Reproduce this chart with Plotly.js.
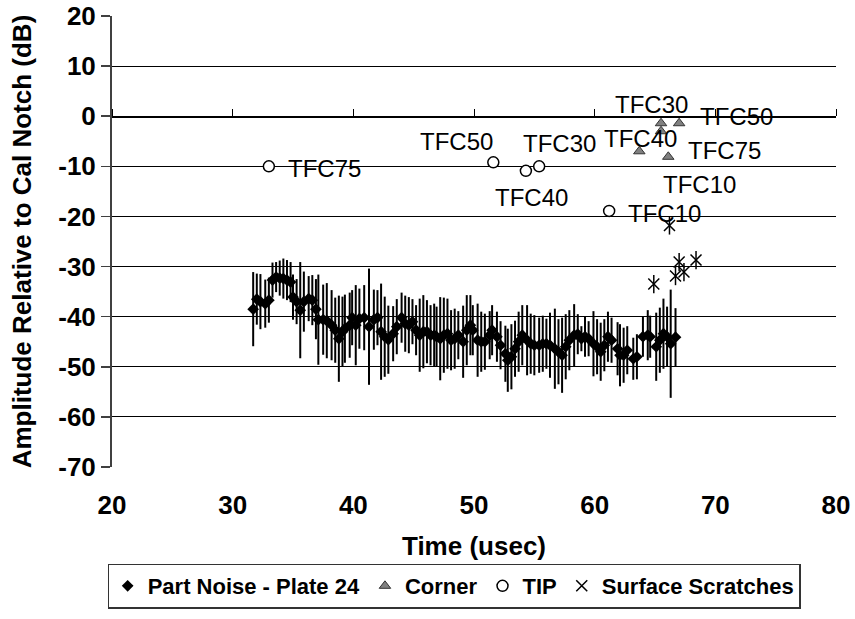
<!DOCTYPE html>
<html>
<head>
<meta charset="utf-8">
<script src="https://cdn.plot.ly/plotly-3.0.1.min.js"></script>
<style>
html,body{margin:0;padding:0;background:#fff;}
#chart{width:855px;height:619px;}
</style>
</head>
<body>
<div id="chart"></div>
<script>
// ---- data ----
const noiseX = [31.7,32.0,32.3,32.7,33.0,33.3,33.6,33.9,34.2,34.5,
  34.8,35.0,35.3,35.6,35.9,36.3,36.6,36.9,37.1,37.5,
  37.8,38.2,38.5,38.8,39.1,39.3,39.7,39.9,40.2,40.5,
  40.9,41.3,41.7,42.0,42.3,42.6,42.9,43.3,43.6,44.0,
  44.3,44.6,44.9,45.2,45.5,45.8,46.1,46.4,46.7,46.9,
  47.2,47.5,47.8,48.1,48.4,48.7,49.1,49.4,49.7,49.9,
  50.3,50.6,50.9,51.3,51.5,51.9,52.2,52.6,52.8,53.1,
  53.4,53.7,54.0,54.4,54.7,55.0,55.4,55.7,56.0,56.3,
  56.7,57.0,57.3,57.6,57.9,58.3,58.6,58.9,59.2,59.5,
  59.9,60.2,60.5,60.8,61.1,61.4,61.9,62.1,62.4,62.7,
  63.2,63.5,64.0,64.4,64.6,65.1,65.4,65.7,66.0,66.3,
  66.7];
const noiseY = [-38.5,-36.5,-37.0,-37.4,-36.7,-32.7,-32.1,-32.3,-32.4,-32.7,
  -33.1,-36.1,-37.0,-38.7,-37.0,-36.4,-36.7,-38.5,-40.6,-40.6,
  -40.8,-41.7,-42.7,-44.4,-43.0,-42.4,-41.7,-40.2,-41.7,-40.4,
  -40.2,-42.0,-40.6,-40.2,-43.0,-44.0,-44.6,-43.4,-42.0,-40.2,
  -41.4,-41.7,-41.0,-42.7,-43.7,-43.0,-43.0,-43.7,-43.7,-44.0,
  -44.4,-43.7,-43.4,-44.7,-44.4,-43.7,-45.0,-42.7,-41.7,-42.7,
  -44.7,-45.0,-45.0,-43.7,-42.7,-44.0,-45.7,-47.4,-48.7,-48.0,
  -46.4,-45.0,-43.7,-44.7,-45.4,-45.7,-45.7,-45.4,-45.4,-45.7,
  -46.4,-47.0,-47.7,-46.0,-44.7,-43.7,-43.5,-44.4,-44.0,-44.4,
  -45.4,-46.0,-47.0,-45.7,-44.0,-44.7,-46.4,-47.7,-47.7,-46.7,
  -48.4,-48.0,-44.0,-43.7,-44.0,-46.0,-44.7,-43.4,-44.0,-45.4,
  -44.1];
const noiseErr = [7.4,5.1,5.5,4.8,4.5,3.5,3.0,3.5,4.0,4.0,
  4.0,4.5,4.5,9.6,6.0,4.5,5.0,6.0,9.0,7.0,
  7.5,7.0,6.5,8.6,7.0,6.8,6.5,5.5,8.0,6.0,
  6.5,11.6,6.0,5.5,9.6,8.0,6.8,5.5,5.5,5.0,
  5.6,5.6,4.5,5.0,7.3,7.3,6.3,6.0,6.3,6.0,
  8.3,7.5,7.0,6.0,6.0,4.8,7.2,7.0,6.0,5.0,
  7.3,6.0,5.6,4.8,5.0,5.0,4.8,5.6,6.3,6.5,
  5.6,6.0,6.0,7.0,6.0,6.0,5.5,5.6,5.0,6.5,
  8.0,6.5,7.5,6.5,6.0,6.2,4.0,2.5,4.0,3.5,
  6.5,5.5,5.8,5.2,5.0,4.5,5.3,6.2,5.5,4.8,
  4.2,4.5,4.0,5.0,4.2,6.8,6.5,7.0,6.0,10.8,
  5.8];

const cornerLabels = ["TFC30","TFC10","TFC50","TFC40","TFC75"];
const cornerX = [65.5,65.5,67.0,63.7,66.1];
const cornerY = [-1.4,-3.0,-1.4,-7.0,-8.1];

const tipLabels = ["TFC75","TFC50","TFC40","TFC30","TFC10"];
const tipX = [33.0,51.6,54.3,55.4,61.2];
const tipY = [-10.0,-9.2,-10.9,-10.0,-18.9];

const scratchX = [66.2,64.9,67.0,68.4,66.7,67.4];
const scratchY = [-21.8,-33.5,-29.1,-28.7,-31.9,-31.1];

// label text positions (left edge, vertical middle) for the data labels
const tipLabelX = [34.4,45.35,51.6,53.9,62.6];
const tipLabelY = [-10.4,-5.1,-16.2,-5.5,-19.4];
const cornerLabelX = [61.5,65.5,68.55,60.57,67.6];
const cornerLabelY = [2.4,-13.6,0.0,-4.45,-6.9];

const xTicks = [20,30,40,50,60,70,80];
const yTicks = [-70,-60,-50,-40,-30,-20,-10,0,10,20];
const xRange = [20,80];
const yRange = [-70,20];

const FONT = "Arial, 'Liberation Sans', sans-serif";
const BOLD = {family: FONT, size: 26, weight: "bold", color: "#000"};

const traces = [
  {
    name: "Part Noise - Plate 24", x: noiseX, y: noiseY, type: "scatter", mode: "markers",
    marker: {symbol: "diamond", size: 9, color: "#000"},
    error_y: {type: "data", array: noiseErr, visible: true, color: "#000", thickness: 2, width: 0},
    xaxis: "x2", yaxis: "y"
  },
  {
    name: "Corner", x: cornerX, y: cornerY, type: "scatter", mode: "markers",
    marker: {symbol: "triangle-up", size: 10, color: "#808080", line: {color: "#333", width: 1}}
  },
  {
    name: "TIP", x: tipX, y: tipY, type: "scatter", mode: "markers",
    marker: {symbol: "circle", size: 11, color: "#fff", line: {color: "#000", width: 1.5}}
  },
  {
    name: "Surface Scratches", x: scratchX, y: scratchY, type: "scatter", mode: "markers",
    legendgroup: "scr",
    marker: {symbol: "x-thin-open", size: 11, color: "#000", line: {color: "#000", width: 1.5}}
  },
  {
    name: "Surface Scratches", x: scratchX, y: scratchY, type: "scatter", mode: "markers",
    legendgroup: "scr", showlegend: false,
    marker: {symbol: "line-ns-open", size: 13, color: "#000", line: {color: "#000", width: 1.5}}
  }
];

const annotations = [];
tipLabels.forEach((t, i) => annotations.push({
  x: tipLabelX[i], y: tipLabelY[i], xref: "x", yref: "y", text: t, showarrow: false,
  xanchor: "left", yanchor: "middle", font: {family: FONT, size: 24, color: "#000"}
}));
cornerLabels.forEach((t, i) => annotations.push({
  x: cornerLabelX[i], y: cornerLabelY[i], xref: "x", yref: "y", text: t, showarrow: false,
  xanchor: "left", yanchor: "middle", font: {family: FONT, size: 24, color: "#000"}
}));

const zeroPos = (0 - yRange[0]) / (yRange[1] - yRange[0]);

const layout = {
  width: 855, height: 619,
  margin: {l: 112, r: 19, t: 16, b: 152, autoexpand: false},
  paper_bgcolor: "#fff", plot_bgcolor: "#fff",
  font: {family: FONT, color: "#000"},
  showlegend: true,
  xaxis: {
    range: xRange, tickvals: xTicks, ticktext: xTicks.map(String),
    showgrid: false, zeroline: false, showline: false,
    ticks: "", ticklabelstandoff: 20, automargin: false,
    tickfont: BOLD,
    title: {text: "Time (usec)", font: BOLD, standoff: 17}
  },
  xaxis2: {
    range: xRange, matches: "x", overlaying: "x", anchor: "free", position: zeroPos, side: "top",
    tickvals: xTicks, ticks: "outside", ticklen: 7, tickwidth: 1, tickcolor: "#000",
    showticklabels: false, showgrid: false, zeroline: false, automargin: false,
    showline: true, linecolor: "#000", linewidth: 1.5
  },
  yaxis: {
    range: yRange, tickvals: yTicks, ticktext: yTicks.map(String),
    showgrid: true, gridcolor: "#000", gridwidth: 1, automargin: false,
    zeroline: false, showline: true, linecolor: "#404040", linewidth: 2,
    ticks: "outside", ticklen: 9, tickwidth: 1.5, tickcolor: "#404040",
    tickfont: BOLD,
    title: {text: "Amplitude Relative to Cal Notch (dB)", font: BOLD, standoff: 19}
  },
  legend: {
    orientation: "h", xref: "paper", yref: "paper",
    x: -0.006, xanchor: "left", y: -0.214, yanchor: "top",
    bordercolor: "#333", borderwidth: 1.5, bgcolor: "#fff",
    font: {family: FONT, size: 22, weight: "bold", color: "#000"},
    itemwidth: 30, tracegroupgap: 0
  },
  annotations: annotations
};

Plotly.newPlot("chart", traces, layout, {displayModeBar: false, staticPlot: true});
</script>
</body>
</html>
